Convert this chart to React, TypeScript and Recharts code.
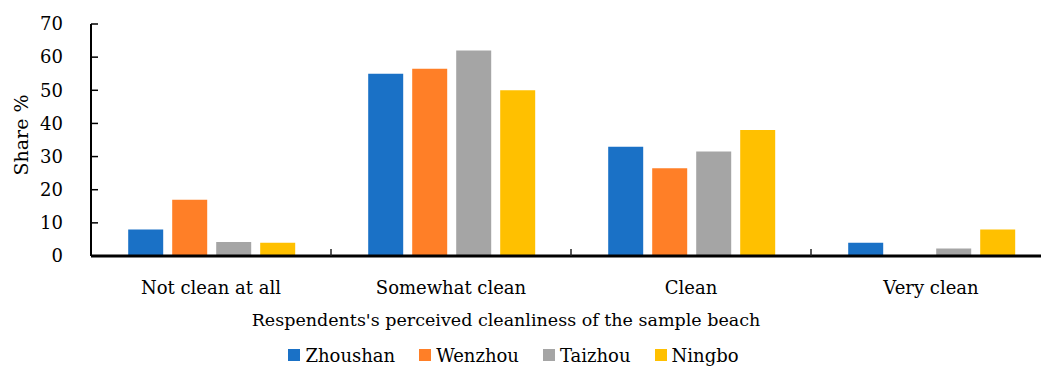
import { Bar, BarChart, Label, Legend, XAxis, YAxis } from "recharts";

const categories = ["Not clean at all", "Somewhat clean", "Clean", "Very clean"];
const zhoushan = [8, 55, 33, 4];
const wenzhou = [17, 56.5, 26.5, 0];
const taizhou = [4.2, 62, 31.5, 2.3];
const ningbo = [4, 50, 38, 8];
const yTicks = [0, 10, 20, 30, 40, 50, 60, 70];

const series = [
  { name: "Zhoushan", values: zhoushan, color: "#1a71c6" },
  { name: "Wenzhou", values: wenzhou, color: "#ff7f27" },
  { name: "Taizhou", values: taizhou, color: "#a5a5a5" },
  { name: "Ningbo", values: ningbo, color: "#ffc000" },
];

const data = categories.map((name, i) => {
  const row: Record<string, string | number> = { name };
  series.forEach((s) => (row[s.name] = s.values[i]));
  return row;
});

const FONT = "'DejaVu Serif', serif";
const SIZE = 18;

function XTick({ x, y, payload, index }: any) {
  const half = payload.offset ?? 0;
  return (
    <g>
      <text x={x} y={y + 38} textAnchor="middle" fontFamily={FONT} fontSize={SIZE} fill="#000">
        {payload.value}
      </text>
      {index < categories.length - 1 && (
        <line x1={x + half} x2={x + half} y1={y} y2={y - 7} stroke="#222" strokeWidth={1.5} />
      )}
    </g>
  );
}

function YTick({ x, y, payload }: any) {
  return (
    <g>
      <text x={x - 28} y={y} dy="0.35em" textAnchor="end" fontFamily={FONT} fontSize={SIZE} fill="#000">
        {payload.value}
      </text>
      <line x1={x} x2={x + 7} y1={y} y2={y} stroke="#000" strokeWidth={1.5} />
    </g>
  );
}

function LegendBox({ payload }: any) {
  const items = series
    .map((s) => (payload || []).find((p: any) => p.value === s.name || p.dataKey === s.name))
    .filter(Boolean);
  return (
    <div style={{ display: "flex", justifyContent: "center", alignItems: "center", height: 24, fontFamily: FONT }}>
      {items.map((p: any) => (
        <div key={p.value} style={{ display: "flex", alignItems: "center", marginRight: 24 }}>
          <span style={{ width: 12, height: 12, background: p.color, display: "inline-block", marginRight: 5 }} />
          <span style={{ fontFamily: FONT, fontSize: SIZE, color: "#000" }}>{p.value}</span>
        </div>
      ))}
    </div>
  );
}

export default function App() {
  return (
    <div style={{ position: "absolute", left: 0, top: 0, width: 1041, height: 367, overflow: "hidden", background: "#fff" }}>
      <BarChart
        width={1051}
        height={367}
        data={data}
        margin={{ top: 24, right: 0, bottom: 0, left: 0 }}
        barCategoryGap="15.5%"
        barGap={9}
      >
        <XAxis
          dataKey="name"
          height={87}
          tickSize={0}
          tickMargin={0}
          tickLine={false}
          axisLine={{ stroke: "#000", strokeWidth: 3 }}
          tick={<XTick />}
          interval={0}
        >
          <Label
            content={({ viewBox }: any) => (
              <text
                x={viewBox.x + 415}
                y={viewBox.y + 70}
                textAnchor="middle"
                fontFamily={FONT}
                fontSize={17.5}
                fill="#000"
              >
                Respendents's perceived cleanliness of the sample beach
              </text>
            )}
          />
        </XAxis>
        <YAxis
          width={91}
          domain={[0, 70]}
          ticks={yTicks}
          interval={0}
          tickSize={0}
          tickMargin={0}
          tickLine={false}
          axisLine={{ stroke: "#000", strokeWidth: 2 }}
          tick={<YTick />}
        >
          <Label
            content={({ viewBox }: any) => {
              const cx = 21;
              const cy = viewBox.y + viewBox.height / 2 - 5;
              return (
                <text
                  x={cx}
                  y={cy}
                  dy="0.35em"
                  textAnchor="middle"
                  transform={`rotate(-90 ${cx} ${cy})`}
                  fontFamily={FONT}
                  fontSize={19}
                  fill="#000"
                >
                  Share %
                </text>
              );
            }}
          />
        </YAxis>
        <Legend verticalAlign="bottom" height={24} content={<LegendBox />} />
        {series.map((s) => (
          <Bar key={s.name} dataKey={s.name} fill={s.color} isAnimationActive={false} />
        ))}
      </BarChart>
    </div>
  );
}
